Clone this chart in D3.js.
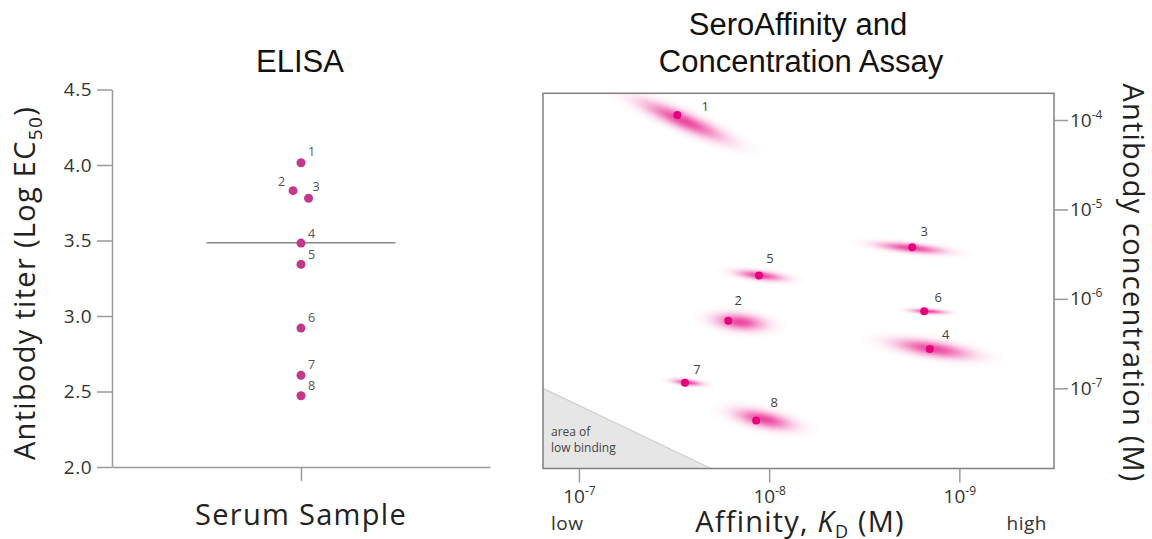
<!DOCTYPE html>
<html><head><meta charset="utf-8">
<script src="https://cdn.jsdelivr.net/npm/d3@7"></script>
<style>
html,body{margin:0;padding:0;background:#fff;}
svg{display:block;}
text{font-family:"Open Sans",Lato,sans-serif;}
</style></head>
<body>
<svg id="chart" width="1152" height="539"></svg>
<script>
// ---------------- DATA ----------------
const samples = ["1","2","3","4","5","6","7","8"];
// ELISA titer (Log EC50)
const elisaTiter = [4.015, 3.83, 3.78, 3.483, 3.342, 2.92, 2.607, 2.472];
const elisaLine = 3.485;
const elisaTicks = [2.0, 2.5, 3.0, 3.5, 4.0, 4.5];
// SeroAffinity: KD (M) and antibody concentration (M)
const kd   = [3.04e-8, 1.64e-8, 1.77e-9, 1.43e-9, 1.13e-8, 1.53e-9, 2.77e-8, 1.17e-8];
const conc = [1.14e-4, 5.7e-7, 3.78e-6, 2.75e-7, 1.82e-6, 7.26e-7, 1.15e-7, 4.35e-8];
// uncertainty cloud: ends along KD (low-affinity end, high-affinity end) and matching concentrations
const cloudKdLow    = [7.6e-8, 2.6e-8, 3.9e-9, 3.4e-9, 1.95e-8, 2.2e-9, 3.8e-8, 2.1e-8];
const cloudKdHigh   = [1.05e-8, 7.8e-9, 8.2e-10, 5.6e-10, 6.3e-9, 9.6e-10, 1.9e-8, 5.4e-9];
const cloudConcLow  = [2.4e-4, 6.3e-7, 4.35e-6, 3.7e-7, 2.1e-6, 7.6e-7, 1.26e-7, 6.1e-8];
const cloudConcHigh = [4.0e-5, 4.8e-7, 3.15e-6, 2.05e-7, 1.58e-6, 6.9e-7, 1.07e-7, 3.3e-8];
const cloudSpreadDecades = [0.19, 0.18, 0.10, 0.17, 0.10, 0.055, 0.065, 0.18];
const kdTicks = [1e-7, 1e-8, 1e-9];
const concTicks = [1e-4, 1e-5, 1e-6, 1e-7];
const kdDomain = [1.545e-7, 3.18e-10];
const concDomain = [1.268e-8, 1.99e-4];
const lowBindingKd = 2.02e-8;   // hypotenuse end on the bottom edge
const lowBindingConc = 1e-7;    // hypotenuse end on the left edge

// ---------------- LAYOUT ----------------
const svg = d3.select("#chart");
const grey = "#9a9a9a";
const elisaJitter = [0, -0.042, 0.04, 0, 0, 0, 0, 0];
const elisaLabelNudge = [[7,-7],[-8,-5],[4,-7],[7,-5],[7,-5],[7,-6],[7,-6],[7,-6]];
const saLabelNudge = [[28,-4],[10,-16],[12,-11],[16,-10],[11,-13],[14,-9],[12,-9],[18,-14]];

function supText(sel, base, exp, size, supSize){
  sel.text(null);
  sel.append("tspan").text(base);
  sel.append("tspan").attr("dy", -size*0.42).attr("font-size", supSize).text(exp);
}

// ===== Left: ELISA =====
const xL = d3.scaleLinear().domain([0,2]).range([112,490]);
const yL = d3.scaleLinear().domain([2,4.5]).range([467,89.5]);

svg.append("text").attr("x",300).attr("y",72).attr("text-anchor","middle")
  .style("font-family","'Liberation Sans',Arial,sans-serif").attr("font-size",31).attr("fill","#111").text("ELISA");

const gyL = svg.append("g").attr("transform","translate(112,0)")
  .call(d3.axisLeft(yL).tickValues(elisaTicks).tickFormat(d3.format(".1f")).tickSize(15).tickSizeOuter(0).tickPadding(5));
const gxL = svg.append("g").attr("transform","translate(0,467)")
  .call(d3.axisBottom(xL).tickValues([1]).tickFormat("").tickSize(14).tickSizeOuter(0));
[gyL,gxL].forEach(g=>{
  g.select(".domain").attr("stroke",grey).attr("stroke-width",1.5);
  g.selectAll(".tick line").attr("stroke",grey).attr("stroke-width",1.5);
  g.selectAll(".tick text").attr("fill","#333").attr("font-size",19).attr("letter-spacing",0.5)
    .style("font-family","'Open Sans',sans-serif");
});

svg.append("line").attr("x1",xL(0.5)).attr("x2",xL(1.5)).attr("y1",yL(elisaLine)).attr("y2",yL(elisaLine))
  .attr("stroke","#888").attr("stroke-width",1.5);

svg.append("g").selectAll("circle").data(samples).join("circle")
  .attr("cx",(d,i)=>xL(1+elisaJitter[i])).attr("cy",(d,i)=>yL(elisaTiter[i]))
  .attr("r",4.5).attr("fill","#c2388b");
svg.append("g").selectAll("text").data(samples).join("text")
  .attr("x",(d,i)=>xL(1+elisaJitter[i])+elisaLabelNudge[i][0])
  .attr("y",(d,i)=>yL(elisaTiter[i])+elisaLabelNudge[i][1])
  .attr("text-anchor",(d,i)=>elisaLabelNudge[i][0]<0?"end":"start")
  .attr("font-size",12.5).attr("fill","#555").text(d=>d);

const ytL = svg.append("text").attr("transform","translate(35,283) rotate(-90)")
  .attr("text-anchor","middle").attr("font-size",29).attr("letter-spacing",1.3).attr("fill","#222");
ytL.append("tspan").text("Antibody titer (Log EC");
ytL.append("tspan").attr("dy",7).attr("font-size",19).text("50");
ytL.append("tspan").attr("dy",-7).text(")");

svg.append("text").attr("x",301).attr("y",525).attr("text-anchor","middle")
  .attr("font-size",29).attr("letter-spacing",1.3).attr("fill","#222").text("Serum Sample");

// ===== Right: SeroAffinity =====
const xR = d3.scaleLog().domain(kdDomain).range([543,1054]);
const yR = d3.scaleLog().domain(concDomain).range([468.5,93.3]);
const [x0,x1] = xR.range(), [y0,y1] = yR.range();

const t1 = svg.append("text").attr("text-anchor","middle")
  .style("font-family","'Liberation Sans',Arial,sans-serif").attr("font-size",31).attr("fill","#111");
t1.append("tspan").attr("x",798).attr("y",35).text("SeroAffinity and");
t1.append("tspan").attr("x",801).attr("y",72).text("Concentration Assay");

const defs = svg.append("defs");
defs.append("clipPath").attr("id","plotclip").append("rect")
  .attr("x",x0).attr("y",y1).attr("width",x1-x0).attr("height",y0-y1);
const grad = defs.append("radialGradient").attr("id","cloud");
d3.range(0,1.0001,0.05).forEach(t=>{
  grad.append("stop").attr("offset",t).attr("stop-color","#e4007c")
    .attr("stop-opacity", 0.72*Math.exp(-4.8*t*t));
});

const plot = svg.append("g").attr("clip-path","url(#plotclip)");
// area of low binding
plot.append("path")
  .attr("d", d3.line()([[x0,yR(lowBindingConc)],[x0,y0],[xR(lowBindingKd),y0]]) + "Z")
  .attr("fill","#e6e6e6");
plot.append("line").attr("x1",x0).attr("y1",yR(lowBindingConc)).attr("x2",xR(lowBindingKd)).attr("y2",y0)
  .attr("stroke","#cfcfcf").attr("stroke-width",1.2);
svg.append("text").attr("x",551).attr("y",436).attr("font-size",12).attr("fill","#444").text("area of");
svg.append("text").attr("x",551).attr("y",452).attr("font-size",12).attr("fill","#444").text("low binding");

// clouds
plot.append("g").selectAll("ellipse").data(samples).join("ellipse")
  .each(function(d,i){
    const ax = xR(cloudKdLow[i]), ay = yR(cloudConcLow[i]);
    const bx = xR(cloudKdHigh[i]), by = yR(cloudConcHigh[i]);
    const cx = (ax+bx)/2, cy = (ay+by)/2;
    const rx = Math.hypot(bx-ax, by-ay)/2;
    const ry = Math.abs(yR(1) - yR(Math.pow(10, cloudSpreadDecades[i])));
    const ang = Math.atan2(by-ay, bx-ax)*180/Math.PI;
    d3.select(this).attr("cx",0).attr("cy",0).attr("rx",rx).attr("ry",ry)
      .attr("transform",`translate(${cx},${cy}) rotate(${ang})`)
      .attr("fill","url(#cloud)");
  });

plot.append("g").selectAll("circle").data(samples).join("circle")
  .attr("cx",(d,i)=>xR(kd[i])).attr("cy",(d,i)=>yR(conc[i])).attr("r",4).attr("fill","#e6007e");
svg.append("g").selectAll("text").data(samples).join("text")
  .attr("x",(d,i)=>xR(kd[i])+saLabelNudge[i][0]).attr("y",(d,i)=>yR(conc[i])+saLabelNudge[i][1])
  .attr("text-anchor","middle").attr("font-size",13).attr("fill","#444").text(d=>d);

// frame
svg.append("rect").attr("x",x0).attr("y",y1).attr("width",x1-x0).attr("height",y0-y1)
  .attr("fill","none").attr("stroke","#808080").attr("stroke-width",1.5);

// axes
const gxR = svg.append("g").attr("transform",`translate(0,${y0})`)
  .call(d3.axisBottom(xR).tickValues(kdTicks).tickSize(14).tickSizeOuter(0).tickPadding(3));
const gyR = svg.append("g").attr("transform",`translate(${x1},0)`)
  .call(d3.axisRight(yR).tickValues(concTicks).tickSize(14).tickSizeOuter(0).tickPadding(2));
[gxR,gyR].forEach(g=>{
  g.select(".domain").remove();
  g.selectAll(".tick line").attr("stroke",grey).attr("stroke-width",1.5);
  g.selectAll(".tick text").attr("fill","#333").attr("font-size",19).style("font-family","'Open Sans',sans-serif")
    .each(function(d){ supText(d3.select(this),"10","-"+Math.round(-Math.log10(d)),19,12); });
});
gxR.selectAll(".tick text").attr("dy","0.92em");

svg.append("text").attr("x",551).attr("y",530).attr("font-size",19).attr("letter-spacing",0.5).attr("fill","#333").text("low");
svg.append("text").attr("x",1047).attr("y",530).attr("text-anchor","end").attr("font-size",19).attr("letter-spacing",0.5).attr("fill","#333").text("high");

const xt = svg.append("text").attr("x",800).attr("y",532).attr("text-anchor","middle").attr("font-size",29).attr("letter-spacing",1.2).attr("fill","#222");
xt.append("tspan").text("Affinity, ");
xt.append("tspan").attr("font-style","italic").text("K");
xt.append("tspan").attr("dy",6).attr("font-size",18).text("D");
xt.append("tspan").attr("dy",-6).text(" (M)");

svg.append("text").attr("transform","translate(1123,283) rotate(90)")
  .attr("text-anchor","middle").attr("font-size",29).attr("letter-spacing",1.2).attr("fill","#222").text("Antibody concentration (M)");
</script>
</body></html>
